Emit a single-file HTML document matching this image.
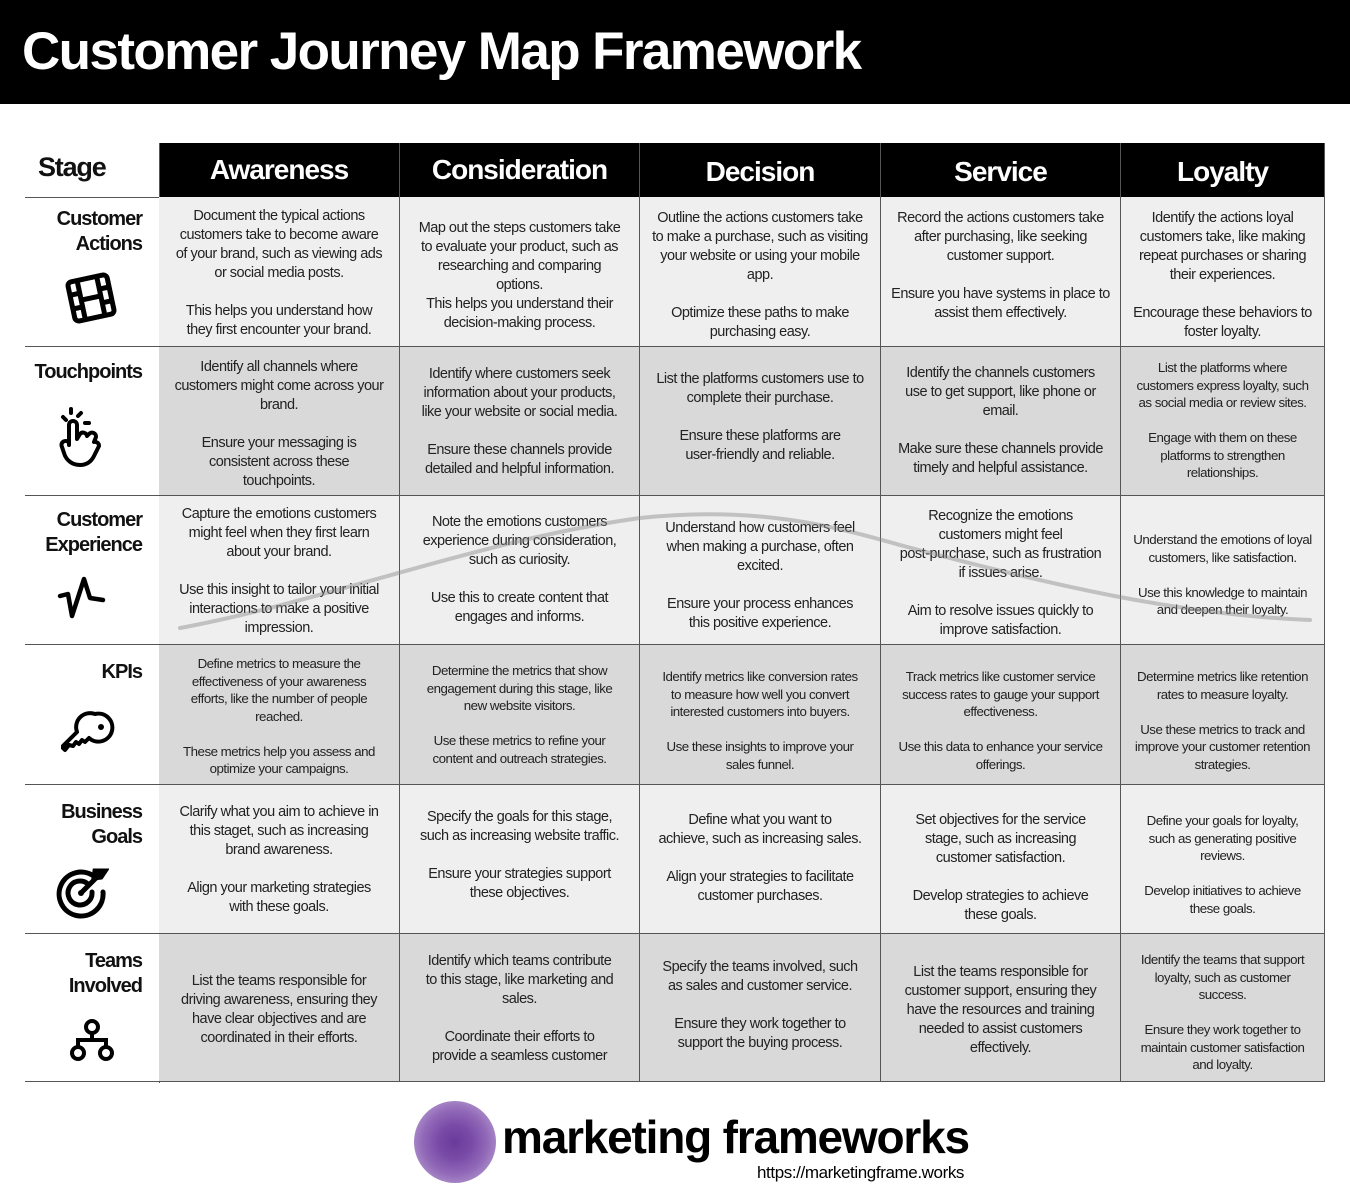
<!DOCTYPE html>
<html><head><meta charset="utf-8"><style>
*{margin:0;padding:0;box-sizing:border-box}
body{width:1350px;height:1200px;background:#fff;position:relative;overflow:hidden;font-family:"Liberation Sans",sans-serif;color:#111}
.title{position:absolute;left:0;top:0;width:1350px;height:104px;background:#000;color:#fff;font-weight:bold;font-size:53px;letter-spacing:-1.6px;padding:21px 0 0 22px}
.hdr{position:absolute;top:143px;height:54px;background:#000;color:#fff;font-weight:bold;font-size:28px;letter-spacing:-1px;text-align:center;padding-top:11px;border-right:1px solid #555}
.cell{position:absolute;border-right:1px solid #555;border-bottom:1px solid #555}
.l{background:#efefef}.d{background:#d9d9d9}
.t{position:absolute;left:0;right:0;text-align:center;font-size:14.5px;line-height:19px;letter-spacing:-0.5px;color:#222}
.s{font-size:13.3px;line-height:17.5px;letter-spacing:-0.5px}
.lab{position:absolute;left:25px;width:134px;border-bottom:1px solid #555;text-align:right;padding-right:17px}
.lab b{display:block;font-size:20px;letter-spacing:-1px;line-height:25px;margin-top:10px}
.lab svg{position:absolute}
</style></head><body>
<div class="title">Customer Journey Map Framework</div>
<div style="position:absolute;left:38px;top:152px;font-weight:bold;font-size:27px;letter-spacing:-1.2px">Stage</div>
<div style="position:absolute;left:25px;top:197px;width:134px;border-top:1px solid #555"></div>
<div class="hdr" style="left:159px;width:241px">Awareness</div>
<div class="hdr" style="left:400px;width:240px">Consideration</div>
<div class="hdr" style="left:640px;width:241px;padding-top:13px">Decision</div>
<div class="hdr" style="left:881px;width:240px;padding-top:13px">Service</div>
<div class="hdr" style="left:1121px;width:204px;padding-top:13px">Loyalty</div>
<div style="position:absolute;left:159px;top:143px;width:1px;height:940px;background:#555"></div>

<div class="lab" style="top:197px;height:150px"><b style="margin-top:10px">Customer<br>Actions</b>
<svg style="left:40px;top:75px" width="52" height="52" viewBox="0 0 52 52"><g transform="rotate(-12 26 26)" fill="none" stroke="#000" stroke-width="5"><rect x="6" y="6" width="40" height="40" rx="4"/><line x1="16" y1="6" x2="16" y2="46"/><line x1="36" y1="6" x2="36" y2="46"/><line x1="16" y1="26" x2="36" y2="26"/><line x1="6" y1="19" x2="16" y2="19"/><line x1="6" y1="33" x2="16" y2="33"/><line x1="36" y1="19" x2="46" y2="19"/><line x1="36" y1="33" x2="46" y2="33"/></g></svg></div>
<div class="lab" style="top:347px;height:149px"><b style="margin-top:13px">Touchpoints</b>
<svg style="left:30px;top:58px" width="50" height="64" viewBox="0 0 50 64"><g fill="none" stroke="#000" stroke-width="4" stroke-linecap="round" stroke-linejoin="round"><path d="M14 40 V20 a4 4 0 0 1 8 0 V34 l3 -5 a4 4 0 0 1 7 2 l2-2 a4 4 0 0 1 7 3 l-2 5 a4 4 0 0 1 5 4 l-5 10 c-3 6-8 9-14 9 c-8 0-14-5-16-12 l-2-6 a4 4 0 0 1 7-4z"/><path d="M8 12 l3 3 M16 4 v4 M26 8 l-3 3 M30 18 h4"/></g></svg></div>
<div class="lab" style="top:496px;height:149px"><b style="margin-top:12px">Customer<br>Experience</b>
<svg style="left:32px;top:80px" width="50" height="44" viewBox="0 0 50 44"><path d="M3 20 l8 -2 l4 22 L27 3 l6 19 l13 2" fill="none" stroke="#000" stroke-width="4.5" stroke-linecap="round" stroke-linejoin="round"/></svg></div>
<div class="lab" style="top:645px;height:140px"><b style="margin-top:15px">KPIs</b>
<svg style="left:36px;top:65px" width="60" height="46" viewBox="0 0 60 46"><g fill="none" stroke="#000" stroke-width="4" stroke-linejoin="round"><path d="M34 4 a14 14 0 1 1 -6 24 l-4 4 l-3 -2 l-3 4 l-3 -2 l-3 4 l-4-1 l-4 5 l-3-3 l15-15 a14 14 0 0 1 18-18z"/></g><circle cx="40" cy="17" r="3" fill="#000"/></svg></div>
<div class="lab" style="top:785px;height:149px"><b style="margin-top:15px">Business<br>Goals</b>
<svg style="left:30px;top:80px" width="54" height="54" viewBox="0 0 54 54"><g fill="none" stroke="#000" stroke-width="5" stroke-linecap="round"><path d="M40 12 A22 22 0 1 0 48 27"/><path d="M33 19 A12 12 0 1 0 37 27"/><line x1="26" y1="28" x2="44" y2="10"/><path d="M40 6 l-1 7 l7 -1 l4-6 l-6 0z" fill="#000"/></g><circle cx="26" cy="28" r="3" fill="#000"/></svg></div>
<div class="lab" style="top:934px;height:148px"><b style="margin-top:15px">Teams<br>Involved</b>
<svg style="left:44px;top:84px" width="46" height="44" viewBox="0 0 46 44"><g fill="none" stroke="#000" stroke-width="4"><circle cx="23" cy="9" r="6"/><circle cx="9" cy="35" r="6"/><circle cx="37" cy="35" r="6"/><path d="M23 15 v7 M9 29 v-7 h28 v7"/></g></svg></div>

<div id="g"></div>
<script>
const X=[159,400,640,881,1121,1325],Y=[197,347,496,645,785,934,1082];
const C=[
[[215,"Document the typical actions<br>customers take to become aware<br>of your brand, such as viewing ads<br>or social media posts.<br><br>This helps you understand how<br>they first encounter your brand."],
 [227,"Map out the steps customers take<br>to evaluate your product, such as<br>researching and comparing<br>options.<br>This helps you understand their<br>decision-making process."],
 [217,"Outline the actions customers take<br>to make a purchase, such as visiting<br>your website or using your mobile<br>app.<br><br>Optimize these paths to make<br>purchasing easy."],
 [217,"Record the actions customers take<br>after purchasing, like seeking<br>customer support.<br><br>Ensure you have systems in place to<br>assist them effectively."],
 [217,"Identify the actions loyal<br>customers take, like making<br>repeat purchases or sharing<br>their experiences.<br><br>Encourage these behaviors to<br>foster loyalty."]],
[[366,"Identify all channels where<br>customers might come across your<br>brand.<br><br>Ensure your messaging is<br>consistent across these<br>touchpoints."],
 [373,"Identify where customers seek<br>information about your products,<br>like your website or social media.<br><br>Ensure these channels provide<br>detailed and helpful information."],
 [378,"List the platforms customers use to<br>complete their purchase.<br><br>Ensure these platforms are<br>user-friendly and reliable."],
 [372,"Identify the channels customers<br>use to get support, like phone or<br>email.<br><br>Make sure these channels provide<br>timely and helpful assistance."],
 [366,"List the platforms where<br>customers express loyalty, such<br>as social media or review sites.<br><br>Engage with them on these<br>platforms to strengthen<br>relationships.",1]],
[[513,"Capture the emotions customers<br>might feel when they first learn<br>about your brand.<br><br>Use this insight to tailor your initial<br>interactions to make a positive<br>impression."],
 [521,"Note the emotions customers<br>experience during consideration,<br>such as curiosity.<br><br>Use this to create content that<br>engages and informs."],
 [527,"Understand how customers feel<br>when making a purchase, often<br>excited.<br><br>Ensure your process enhances<br>this positive experience."],
 [515,"Recognize the emotions<br>customers might feel<br>post-purchase, such as frustration<br>if issues arise.<br><br>Aim to resolve issues quickly to<br>improve satisfaction."],
 [538,"Understand the emotions of loyal<br>customers, like satisfaction.<br><br>Use this knowledge to maintain<br>and deepen their loyalty.",1]],
[[662,"Define metrics to measure the<br>effectiveness of your awareness<br>efforts, like the number of people<br>reached.<br><br>These metrics help you assess and<br>optimize your campaigns.",1],
 [669,"Determine the metrics that show<br>engagement during this stage, like<br>new website visitors.<br><br>Use these metrics to refine your<br>content and outreach strategies.",1],
 [675,"Identify metrics like conversion rates<br>to measure how well you convert<br>interested customers into buyers.<br><br>Use these insights to improve your<br>sales funnel.",1],
 [675,"Track metrics like customer service<br>success rates to gauge your support<br>effectiveness.<br><br>Use this data to enhance your service<br>offerings.",1],
 [675,"Determine metrics like retention<br>rates to measure loyalty.<br><br>Use these metrics to track and<br>improve your customer retention<br>strategies.",1]],
[[811,"Clarify what you aim to achieve in<br>this staget, such as increasing<br>brand awareness.<br><br>Align your marketing strategies<br>with these goals."],
 [816,"Specify the goals for this stage,<br>such as increasing website traffic.<br><br>Ensure your strategies support<br>these objectives."],
 [819,"Define what you want to<br>achieve, such as increasing sales.<br><br>Align your strategies to facilitate<br>customer purchases."],
 [819,"Set objectives for the service<br>stage, such as increasing<br>customer satisfaction.<br><br>Develop strategies to achieve<br>these goals."],
 [819,"Define your goals for loyalty,<br>such as generating positive<br>reviews.<br><br>Develop initiatives to achieve<br>these goals.",1]],
[[980,"List the teams responsible for<br>driving awareness, ensuring they<br>have clear objectives and are<br>coordinated in their efforts."],
 [960,"Identify which teams contribute<br>to this stage, like marketing and<br>sales.<br><br>Coordinate their efforts to<br>provide a seamless customer"],
 [966,"Specify the teams involved, such<br>as sales and customer service.<br><br>Ensure they work together to<br>support the buying process."],
 [971,"List the teams responsible for<br>customer support, ensuring they<br>have the resources and training<br>needed to assist customers<br>effectively."],
 [958,"Identify the teams that support<br>loyalty, such as customer<br>success.<br><br>Ensure they work together to<br>maintain customer satisfaction<br>and loyalty.",1]]];
let h="";
for(let r=0;r<6;r++)for(let c=0;c<5;c++){const [cy,t,s]=C[r][c];
h+=`<div class="cell ${r%2?'d':'l'}" style="left:${X[c]}px;top:${Y[r]}px;width:${X[c+1]-X[c]}px;height:${Y[r+1]-Y[r]}px"><div class="t${s?' s':''}" style="top:${cy-Y[r]-(s?7:8)}px">${t}</div></div>`;}
document.getElementById('g').innerHTML=h;
</script>
<svg style="position:absolute;left:0;top:0" width="1350" height="1200"><path d="M180 628 C330 600 480 540 640 518 C760 505 840 528 900 545 C1050 585 1180 615 1310 620" fill="none" stroke="#8a8a8a" stroke-opacity="0.45" stroke-width="4" stroke-linecap="round"/></svg>

<div style="position:absolute;left:414px;top:1101px;width:82px;height:82px;border-radius:50%;background:radial-gradient(circle,#6a3a9a 0,#7a4ca8 30%,#9168b8 55%,#b094cc 80%,#c5addb 100%)"></div>
<div style="position:absolute;left:502px;top:1110px;font-weight:bold;font-size:46px;letter-spacing:-1.2px;color:#000">marketing frameworks</div>
<div style="position:absolute;left:757px;top:1163px;font-size:17px;letter-spacing:-0.4px;color:#000">https://marketingframe.works</div>
</body></html>
